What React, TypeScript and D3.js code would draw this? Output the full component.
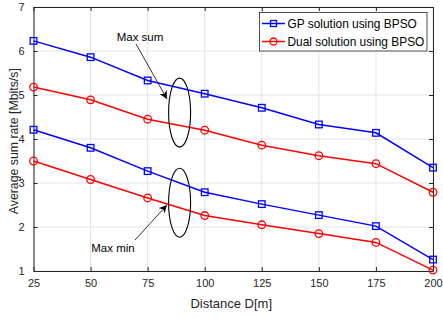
import React, { useEffect, useRef } from "react";
import * as d3 from "d3";

const distances = [25, 50, 75, 100, 125, 150, 175, 200];
const gpMaxSum = [6.23, 5.86, 5.33, 5.03, 4.71, 4.33, 4.14, 3.35];
const dualMaxSum = [5.18, 4.89, 4.45, 4.2, 3.86, 3.62, 3.44, 2.79];
const gpMaxMin = [4.21, 3.8, 3.27, 2.79, 2.52, 2.27, 2.02, 1.26];
const dualMaxMin = [3.5, 3.08, 2.66, 2.26, 2.05, 1.85, 1.65, 1.02];
const yTicks = [1, 2, 3, 4, 5, 6, 7];
const legendLabels = ["GP solution using BPSO", "Dual solution using BPSO"];

export default function App() {
  const ref = useRef<SVGSVGElement>(null);
  const width = 443;
  const height = 317;
  const m = { top: 7, right: 10, bottom: 46, left: 33.5 };

  useEffect(() => {
    const svg = d3.select(ref.current);
    svg.selectAll("*").remove();
    const font = "'Liberation Sans', Arial, sans-serif";

    const x = d3.scaleLinear().domain([25, 200]).range([m.left, width - m.right]);
    const y = d3.scaleLinear().domain([1, 7]).range([height - m.bottom, m.top]);

    svg.append("rect").attr("width", width).attr("height", height).attr("fill", "white");

    // grid
    const grid = svg.append("g").attr("stroke", "#e3e3e3").attr("stroke-width", 1);
    distances.forEach((d) =>
      grid.append("line").attr("x1", x(d)).attr("x2", x(d)).attr("y1", y(1)).attr("y2", y(7))
    );
    yTicks.forEach((t) =>
      grid.append("line").attr("x1", x(25)).attr("x2", x(200)).attr("y1", y(t)).attr("y2", y(t))
    );

    // axes
    const xAxis = d3.axisBottom(x).tickValues(distances).tickFormat(d3.format("d")).tickSize(-4).tickSizeOuter(0).tickPadding(8);
    const yAxis = d3.axisLeft(y).tickValues(yTicks).tickFormat(d3.format("d")).tickSize(-4).tickSizeOuter(0).tickPadding(9);
    const xTop = d3.axisTop(x).tickValues(distances).tickSize(-4).tickSizeOuter(0).tickFormat(() => "");
    const yRight = d3.axisRight(y).tickValues(yTicks).tickSize(-4).tickSizeOuter(0).tickFormat(() => "");

    const gx = svg.append("g").attr("transform", `translate(0,${y(1)})`).call(xAxis);
    const gy = svg.append("g").attr("transform", `translate(${x(25)},0)`).call(yAxis);
    svg.append("g").attr("transform", `translate(0,${y(7)})`).call(xTop);
    svg.append("g").attr("transform", `translate(${x(200)},0)`).call(yRight);
    svg.selectAll(".domain").attr("stroke", "#262626");
    svg.selectAll(".tick line").attr("stroke", "#262626");
    [gx, gy].forEach((g) =>
      g.selectAll(".tick text").attr("fill", "#262626").style("font-size", "11px").style("font-family", font)
    );

    // series
    const line = d3
      .line<number>()
      .x((_, i) => x(distances[i]))
      .y((v) => y(v));

    const drawSeries = (vals: number[], color: string, marker: "square" | "circle") => {
      svg.append("path").datum(vals).attr("d", line).attr("fill", "none").attr("stroke", color).attr("stroke-width", 1.5);
      const g = svg.append("g");
      vals.forEach((v, i) => {
        if (marker === "square") {
          g.append("rect")
            .attr("x", x(distances[i]) - 3.3)
            .attr("y", y(v) - 3.3)
            .attr("width", 6.6)
            .attr("height", 6.6)
            .attr("fill", "none")
            .attr("stroke", color)
            .attr("stroke-width", 1.3);
        } else {
          g.append("circle")
            .attr("cx", x(distances[i]))
            .attr("cy", y(v))
            .attr("r", 3.8)
            .attr("fill", "none")
            .attr("stroke", color)
            .attr("stroke-width", 1.3);
        }
      });
    };
    drawSeries(gpMaxSum, "#0000ff", "square");
    drawSeries(dualMaxSum, "#ff0000", "circle");
    drawSeries(gpMaxMin, "#0000ff", "square");
    drawSeries(dualMaxMin, "#ff0000", "circle");

    // annotations
    const defs = svg.append("defs");
    defs
      .append("marker")
      .attr("id", "arr")
      .attr("viewBox", "0 0 10 10")
      .attr("refX", 10)
      .attr("refY", 5)
      .attr("markerWidth", 8)
      .attr("markerHeight", 8)
      .attr("markerUnits", "userSpaceOnUse")
      .attr("orient", "auto")
      .append("path")
      .attr("d", "M0,0 L10,5 L0,10 L3,5 Z")
      .attr("fill", "#000");

    const ann = svg.append("g");
    ann.append("ellipse").attr("cx", x(89)).attr("cy", y(4.6)).attr("rx", 11).attr("ry", 34.5)
      .attr("fill", "none").attr("stroke", "#000").attr("stroke-width", 1.1);
    ann.append("ellipse").attr("cx", x(89)).attr("cy", y(2.55)).attr("rx", 11).attr("ry", 34.5)
      .attr("fill", "none").attr("stroke", "#000").attr("stroke-width", 1.1);
    ann.append("line").attr("x1", 136).attr("y1", 44).attr("x2", 167).attr("y2", 99)
      .attr("stroke", "#000").attr("stroke-width", 0.8).attr("marker-end", "url(#arr)");
    ann.append("line").attr("x1", 135).attr("y1", 240).attr("x2", 167).attr("y2", 205)
      .attr("stroke", "#000").attr("stroke-width", 0.8).attr("marker-end", "url(#arr)");
    ann.append("text").attr("x", 140).attr("y", 41).attr("text-anchor", "middle")
      .style("font-family", font).style("font-size", "11.5px").text("Max sum");
    ann.append("text").attr("x", 113).attr("y", 252).attr("text-anchor", "middle")
      .style("font-family", font).style("font-size", "11.5px").text("Max min");

    // axis labels
    svg.append("text").attr("x", x(112.5) - 2).attr("y", 308).attr("text-anchor", "middle")
      .attr("fill", "#262626").style("font-family", font).style("font-size", "13px").text("Distance D[m]");
    svg.append("text").attr("transform", `translate(13.5,${y(3.95)}) rotate(-90)`).attr("text-anchor", "middle")
      .attr("dy", "0.35em").attr("fill", "#262626").style("font-family", font).style("font-size", "12.3px")
      .text("Average sum rate [Mbits/s]");

    // legend
    const lg = svg.append("g");
    lg.append("rect").attr("x", 259.5).attr("y", 12.5).attr("width", 167.5).attr("height", 38.5)
      .attr("fill", "white").attr("stroke", "#262626").attr("stroke-width", 0.8);
    const colors = ["#0000ff", "#ff0000"];
    legendLabels.forEach((lab, i) => {
      const cy = 23.5 + i * 18;
      lg.append("line").attr("x1", 262).attr("x2", 285).attr("y1", cy).attr("y2", cy)
        .attr("stroke", colors[i]).attr("stroke-width", 1.5);
      if (i === 0) {
        lg.append("rect").attr("x", 270.5).attr("y", cy - 3).attr("width", 6).attr("height", 6)
          .attr("fill", "none").attr("stroke", colors[i]).attr("stroke-width", 1.3);
      } else {
        lg.append("circle").attr("cx", 273.5).attr("cy", cy).attr("r", 3.5)
          .attr("fill", "none").attr("stroke", colors[i]).attr("stroke-width", 1.3);
      }
      lg.append("text").attr("x", 287.5).attr("y", cy + 4.2).style("font-family", font)
        .style("font-size", "11.9px").attr("fill", "#000").text(lab);
    });
  }, []);

  return (
    <svg ref={ref} width={width} height={height} style={{ position: "absolute", left: 0, top: 0 }} />
  );
}
